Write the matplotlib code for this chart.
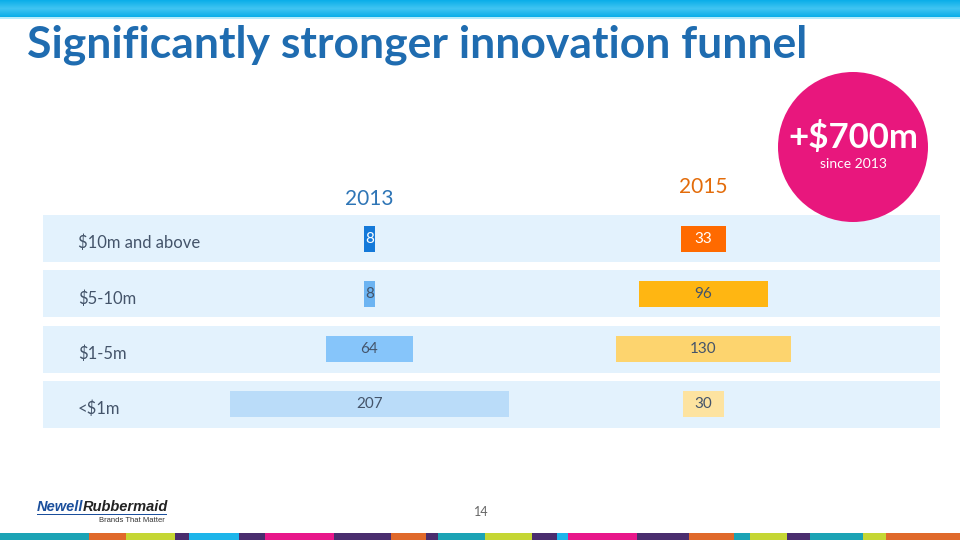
import numpy as np
import matplotlib.pyplot as plt
from matplotlib.patches import Rectangle, Circle

plt.rcParams['font.family'] = ['Lato', 'DejaVu Sans']

### DATA
categories = ["$10m and above", "$5-10m", "$1-5m", "<$1m"]
years = ["2013", "2015"]
values_2013 = [8, 8, 64, 207]
values_2015 = [33, 96, 130, 30]
colors_2013 = ["#1479d9", "#6cb4f2", "#86c5fa", "#badcf9"]
colors_2015 = ["#ff6a00", "#ffb612", "#fdd46e", "#fde3a0"]
label_colors = ["white", "#44546a", "#44546a", "#44546a"]
title = "Significantly stronger innovation funnel"
callout_value = "+$700m"
callout_note = "since 2013"

### FIGURE
fig = plt.figure(figsize=(9.6, 5.4), dpi=100)
fig.patch.set_facecolor("white")

# funnel axes: x in value units, one row per category
ax = fig.add_axes([43 / 960, 1 - 428 / 540, 897 / 960, 213 / 540])
px_per_unit = 1.35
ax.set_xlim(0, 897 / px_per_unit)
band_h = 47 / 55
ax.set_ylim(3 + band_h / 2, -band_h / 2)
ax.axis("off")

centers = [(369.5 - 43) / px_per_unit, (703.5 - 43) / px_per_unit]
y = np.arange(len(categories))

for i in y:
    ax.add_patch(Rectangle((0, i - band_h / 2), 897 / px_per_unit, band_h,
                           facecolor="#e3f2fd", edgecolor="none", zorder=0))
    ax.text((78 - 43) / px_per_unit, i + 0.08, categories[i], ha="left", va="center",
            fontsize=12, color="#44546a")

for vals, cols, c in [(values_2013, colors_2013, centers[0]),
                      (values_2015, colors_2015, centers[1])]:
    left = [c - v / 2 for v in vals]
    ax.barh(y, vals, left=left, height=0.47, color=cols, zorder=2)
    for i, v in enumerate(vals):
        ax.text(c, i, str(v), ha="center", va="center", fontsize=11,
                color=label_colors[i], zorder=3)

# year headings
ax.text(centers[0], -0.72, years[0], ha="center", va="center", fontsize=15, color="#2e75b6")
ax.text(centers[1], -0.93, years[1], ha="center", va="center", fontsize=15, color="#e36c0a")

### DECORATION (pixel coordinates)
deco = fig.add_axes([0, 0, 1, 1], zorder=5)
deco.set_xlim(0, 960)
deco.set_ylim(540, 0)
deco.axis("off")
deco.patch.set_alpha(0)

# top gradient bar
grad = np.linspace(0, 1, 50).reshape(-1, 1)
grad = 1 - np.abs(grad - 0.5) * 2
top_cmap = plt.matplotlib.colors.LinearSegmentedColormap.from_list("top", ["#0aaee9", "#3fc4f2"])
deco.imshow(grad, cmap=top_cmap, extent=(0, 960, 17, 0), aspect="auto", zorder=1)
deco.add_patch(Rectangle((0, 17), 960, 2, facecolor="#b9ecfb", edgecolor="none"))

# title
deco.text(27, 45, title, ha="left", va="center", fontsize=32, fontweight="bold", color="#1f6cb0")

# callout circle
deco.add_patch(Circle((853, 147), 75, facecolor="#e8177d", edgecolor="none", zorder=3))
deco.text(853, 137, callout_value, ha="center", va="center", fontsize=25,
          fontweight="bold", color="white", zorder=4)
deco.text(853, 164, callout_note, ha="center", va="center", fontsize=10,
          color="white", zorder=4)

# logo
deco.text(37, 507, "Newell", ha="left", va="center", fontsize=10.5, fontweight="bold",
          style="italic", color="#1b4f9c", family="Liberation Sans")
deco.text(168, 507, "Rubbermaid", ha="right", va="center", fontsize=10.5, fontweight="bold",
          style="italic", color="#222222", family="Liberation Sans")
deco.add_patch(Rectangle((37, 514), 130, 1.2, facecolor="#1b4f9c", edgecolor="none"))
deco.text(165, 521, "Brands That Matter", ha="right", va="center", fontsize=5.5,
          color="#333333", family="Liberation Sans")

# page number
deco.text(481, 512, "14", ha="center", va="center", fontsize=9, color="#666666")

# bottom stripe
stripe = [(0, 89, "#1ba3b5"), (89, 126, "#e0692a"), (126, 175, "#c5d633"),
          (175, 189, "#4a2d6e"), (189, 239, "#1cb5ea"), (239, 265, "#4a2d6e"),
          (265, 334, "#e8178a"), (334, 391, "#4a2d6e"), (391, 426, "#e0692a"),
          (426, 438, "#4a2d6e"), (438, 485, "#1ba3b5"), (485, 532, "#c5d633"),
          (532, 557, "#4a2d6e"), (557, 568, "#1cb5ea"), (568, 637, "#e8178a"),
          (637, 689, "#4a2d6e"), (689, 734, "#e0692a"), (734, 750, "#1ba3b5"),
          (750, 787, "#c5d633"), (787, 810, "#4a2d6e"), (810, 863, "#1ba3b5"),
          (863, 886, "#c5d633"), (886, 960, "#e0692a")]
for x0, x1, col in stripe:
    deco.add_patch(Rectangle((x0, 533), x1 - x0, 7, facecolor=col, edgecolor="none"))

fig.savefig("out.png", dpi=100)
